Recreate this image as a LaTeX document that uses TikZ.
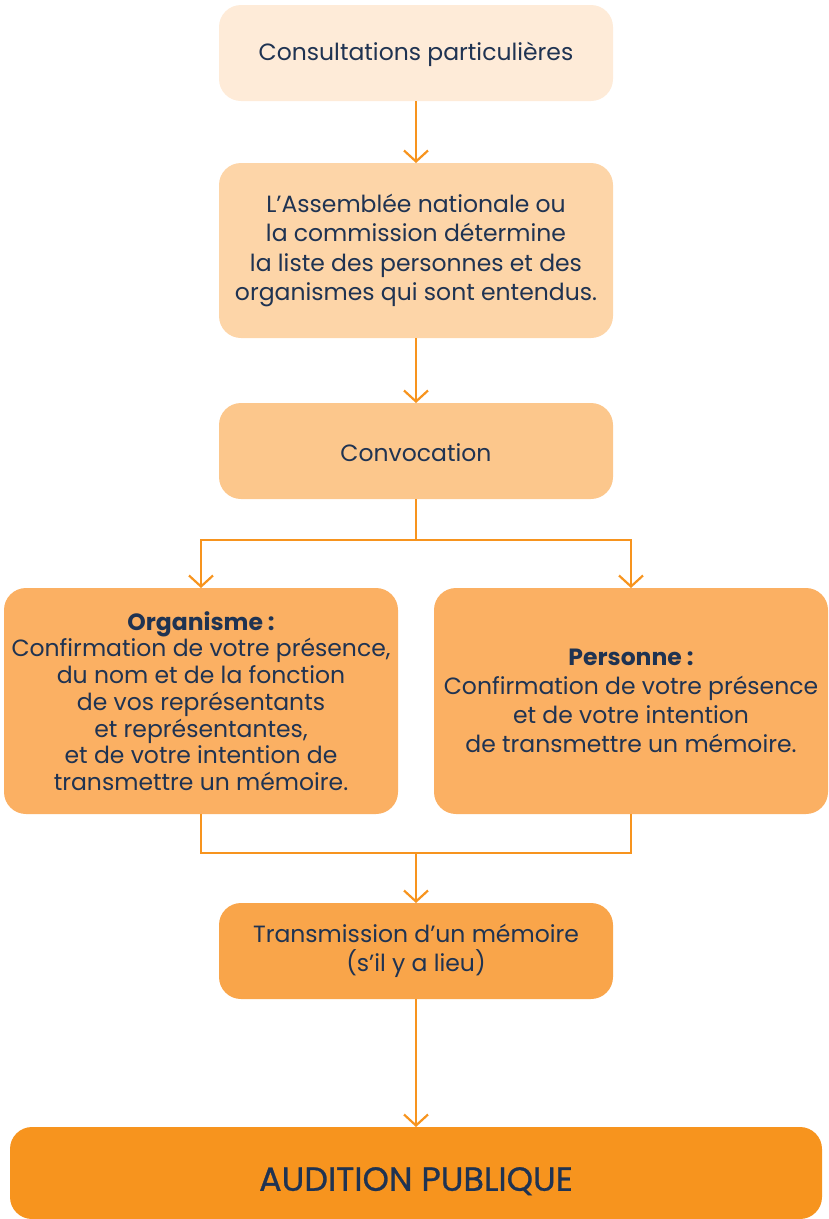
\documentclass[tikz,border=0pt]{standalone}
\usepackage{fontspec}
\setmainfont{Poppins}
\newfontfamily\audfont[FakeBold=0.8]{Poppins}
\usetikzlibrary{arrows.meta}
\definecolor{navy}{HTML}{1F3352}
\definecolor{lineor}{HTML}{F7941E}
\definecolor{cA}{HTML}{FEEBD8}
\definecolor{cB}{HTML}{FDD5A8}
\definecolor{cC}{HTML}{FCC78C}
\definecolor{cD}{HTML}{FBB063}
\definecolor{cE}{HTML}{F9A54A}
\definecolor{cF}{HTML}{F7941E}
\begin{document}
\begin{tikzpicture}[x=1pt,y=-1pt,
  box/.style={rounded corners=22pt, inner sep=0pt, outer sep=0pt, align=center, text=navy,
    font=\fontsize{23.5}{29.5}\selectfont},
  conn/.style={draw=lineor, line width=2.2pt},
  arr/.style={conn, -{Straight Barb[length=11pt,width=24pt,line width=2.2pt]}}]
\useasboundingbox (0,0) rectangle (829,1219);
\node[box, fill=cA, minimum width=394pt, minimum height=96pt] (a) at (416,53) {\rule{0pt}{22pt}Consultations particulières};
\node[box, fill=cB, minimum width=394pt, minimum height=175pt] (b) at (416,250.5)
  {L’Assemblée nationale ou\\la commission détermine\\la liste des personnes et des\\organismes qui sont entendus.};
\node[box, fill=cC, minimum width=394pt, minimum height=96pt] (c) at (416,451) {\rule{0pt}{22pt}Convocation};
\node[box, fill=cD, minimum width=394pt, minimum height=226pt, font=\fontsize{23.5}{26.7}\selectfont] (org) at (201,701)
  {\textbf{Organisme :}\\Confirmation de votre présence,\\du nom et de la fonction\\de vos représentants\\et représentantes,\\et de votre intention de\\transmettre un mémoire.};
\node[box, fill=cD, minimum width=394pt, minimum height=226pt, font=\fontsize{23.5}{29.2}\selectfont] (pers) at (631,701)
  {\textbf{Personne :}\\Confirmation de votre présence\\et de votre intention\\de transmettre un mémoire.};
\node[box, fill=cE, minimum width=394pt, minimum height=96pt] (t) at (416,951)
  {Transmission d’un mémoire\\(s’il y a lieu)};
\node[box, fill=cF, minimum width=812pt, minimum height=92pt, font=\audfont\fontsize{33.5}{36}\selectfont] (aud) at (416,1173)
  {\rule{0pt}{40pt}AUDITION PUBLIQUE};
\coordinate (split) at (416,540);
\coordinate (join) at (416,853);
\draw[arr] (a.south) -- (b.north);
\draw[arr] (b.south) -- (c.north);
\draw[conn] (c.south) -- (split);
\draw[arr] (split) -| (org.north);
\draw[arr] (split) -| (pers.north);
\draw[conn] (org.south) |- (join) -| (pers.south);
\draw[arr] (join) -- (t.north);
\draw[arr] (t.south) -- (aud.north);
\end{tikzpicture}
\end{document}
